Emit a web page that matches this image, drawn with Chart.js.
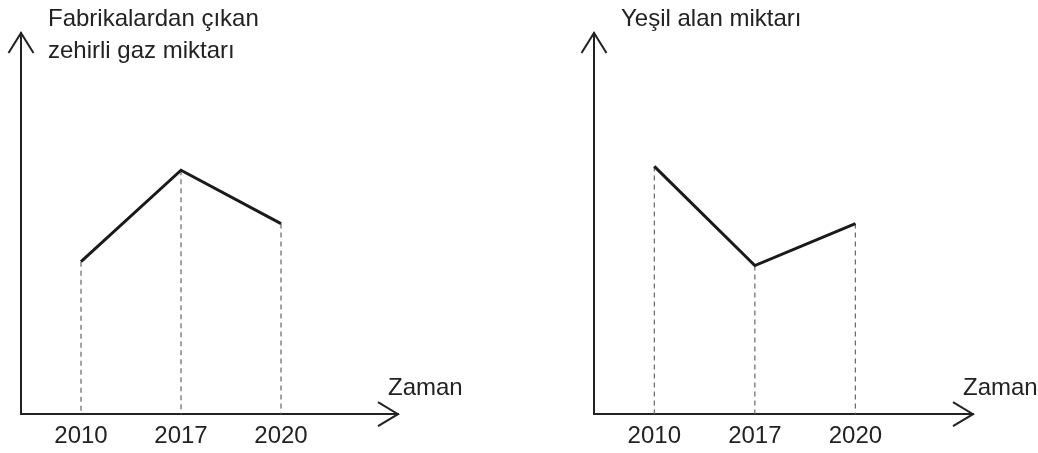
<!DOCTYPE html>
<html>
<head>
<meta charset="utf-8">
<script src="https://cdn.jsdelivr.net/npm/chart.js@4/dist/chart.umd.min.js"></script>
<style>
  body { margin: 0; background: #fff; }
  .wrap { position: relative; width: 1038px; height: 453px; overflow: hidden; }
  .box { position: absolute; top: 0; width: 519px; height: 461px; }
  .txt { position: absolute; font-family: "Liberation Sans", Arial, sans-serif; font-size: 24px; color: #222; line-height: 32px; white-space: nowrap; }
</style>
</head>
<body>
<div class="wrap">
  <div class="box" style="left:0"><canvas id="leftChart"></canvas></div>
  <div class="box" style="left:519px"><canvas id="rightChart"></canvas></div>
  <div class="txt" id="leftTitle" style="left:48px; top:2px"></div>
  <div class="txt" id="rightTitle" style="left:621px; top:2px"></div>
  <div class="txt" id="leftX" style="left:388px; top:371px"></div>
  <div class="txt" id="rightX" style="left:963px; top:371px"></div>
</div>
<script>
const years = ['2010', '2017', '2020'];
const gasValues = [40, 64, 50];
const greenValues = [65, 39, 50];
const leftTitle = ['Fabrikalardan çıkan', 'zehirli gaz miktarı'];
const rightTitle = ['Yeşil alan miktarı'];
const xTitle = 'Zaman';

document.getElementById('leftTitle').innerHTML = leftTitle.join('<br>');
document.getElementById('rightTitle').innerHTML = rightTitle.join('<br>');
document.getElementById('leftX').textContent = xTitle;
document.getElementById('rightX').textContent = xTitle;

const ink = '#222';

// dashed lines from each point down to the time axis
const dropLines = {
  id: 'dropLines',
  beforeDatasetsDraw(chart) {
    const ctx = chart.ctx;
    const bottom = chart.chartArea.bottom;
    ctx.save();
    ctx.strokeStyle = '#666';
    ctx.lineWidth = 1.2;
    ctx.setLineDash([5, 4]);
    chart.getDatasetMeta(0).data.forEach(pt => {
      ctx.beginPath();
      ctx.moveTo(pt.x, pt.y);
      ctx.lineTo(pt.x, bottom);
      ctx.stroke();
    });
    ctx.restore();
  }
};

// open arrow heads at the ends of both axes
const arrows = {
  id: 'arrows',
  afterDraw(chart) {
    const { left, right, top, bottom } = chart.chartArea;
    const ctx = chart.ctx;
    ctx.save();
    ctx.strokeStyle = ink;
    ctx.lineWidth = 2;
    ctx.beginPath();
    ctx.moveTo(left - 12.5, top + 20);
    ctx.lineTo(left, top);
    ctx.lineTo(left + 12.5, top + 20);
    ctx.moveTo(right - 20, bottom - 12);
    ctx.lineTo(right, bottom);
    ctx.lineTo(right - 20, bottom + 12);
    ctx.stroke();
    ctx.restore();
  }
};

function makeChart(id, values, padLeft, padRight) {
  const ctx = document.getElementById(id).getContext('2d');
  return new Chart(ctx, {
    type: 'line',
    data: {
      datasets: [{
        data: values.map((v, i) => ({ x: i + 1, y: v })),
        borderColor: '#1a1a1a',
        borderWidth: 3,
        pointRadius: 0,
        tension: 0,
        fill: false
      }]
    },
    options: {
      responsive: false,
      animation: false,
      layout: { padding: { left: padLeft, right: padRight, top: 33, bottom: 2 } },
      plugins: { legend: { display: false }, tooltip: { enabled: false } },
      scales: {
        x: {
          type: 'linear',
          min: 0.4,
          max: 4.17,
          afterBuildTicks: axis => { axis.ticks = years.map((y, i) => ({ value: i + 1 })); },
          ticks: {
            autoSkip: false,
            maxRotation: 0,
            padding: 8,
            color: ink,
            font: { family: '"Liberation Sans", Arial, sans-serif', size: 24 },
            callback: v => years[v - 1]
          },
          grid: { display: false, drawTicks: false },
          border: { display: true, color: ink, width: 2 }
        },
        y: {
          min: 0,
          max: 100,
          ticks: { display: false },
          grid: { display: false, drawTicks: false },
          border: { display: true, color: ink, width: 2 }
        }
      }
    },
    plugins: [dropLines, arrows]
  });
}

['leftChart', 'rightChart'].forEach(id => {
  document.getElementById(id).width = 519;
  document.getElementById(id).height = 461;
});

makeChart('leftChart', gasValues, 21, 121);
makeChart('rightChart', greenValues, 75, 65);
</script>
</body>
</html>
